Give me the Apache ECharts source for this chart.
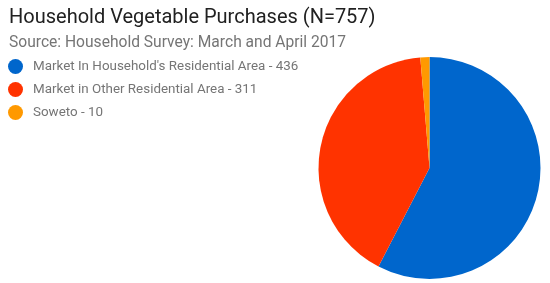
<!DOCTYPE html>
<html><head><meta charset="utf-8">
<script src="https://cdn.jsdelivr.net/npm/echarts@6/dist/echarts.min.js"></script>
<style>html,body{margin:0;padding:0;background:#fff}#c{width:550px;height:283px}</style>
</head><body><div id="c"></div>
<script>
const categories = ["Market In Household's Residential Area", "Market in Other Residential Area", "Soweto"];
const values = [436, 311, 10];
const colors = ['#0066cc', '#ff3300', '#ff9900'];
const titleText = 'Household Vegetable Purchases (N=757)';
const subtitleText = 'Source: Household Survey: March and April 2017';

const chart = echarts.init(document.getElementById('c'), null, {renderer: 'canvas'});
const data = categories.map((c, i) => ({name: c, value: values[i], itemStyle: {color: colors[i]}}));
chart.setOption({
  animation: false,
  title: {
    text: titleText,
    subtext: subtitleText,
    left: 4,
    top: 3,
    itemGap: 7,
    textStyle: {fontFamily: 'Roboto', fontSize: 20, fontWeight: 'normal', color: '#212121'},
    subtextStyle: {fontFamily: 'Roboto', fontSize: 15.6, color: '#757575'}
  },
  legend: {
    orient: 'vertical',
    left: 8,
    top: 59,
    padding: 0,
    icon: 'circle',
    itemWidth: 15,
    itemHeight: 15,
    itemGap: 8,
    selectedMode: false,
    formatter: function (name) {
      const i = categories.indexOf(name);
      return name + ' - ' + values[i];
    },
    textStyle: {fontFamily: 'Roboto', fontSize: 13.4, color: '#757575', padding: [0, 0, 0, 5]}
  },
  series: [{
    type: 'pie',
    center: [429.5, 168],
    radius: 111,
    startAngle: 90,
    clockwise: true,
    label: {show: false},
    labelLine: {show: false},
    itemStyle: {borderWidth: 0},
    emphasis: {disabled: true},
    data: data
  }]
});
</script></body></html>
